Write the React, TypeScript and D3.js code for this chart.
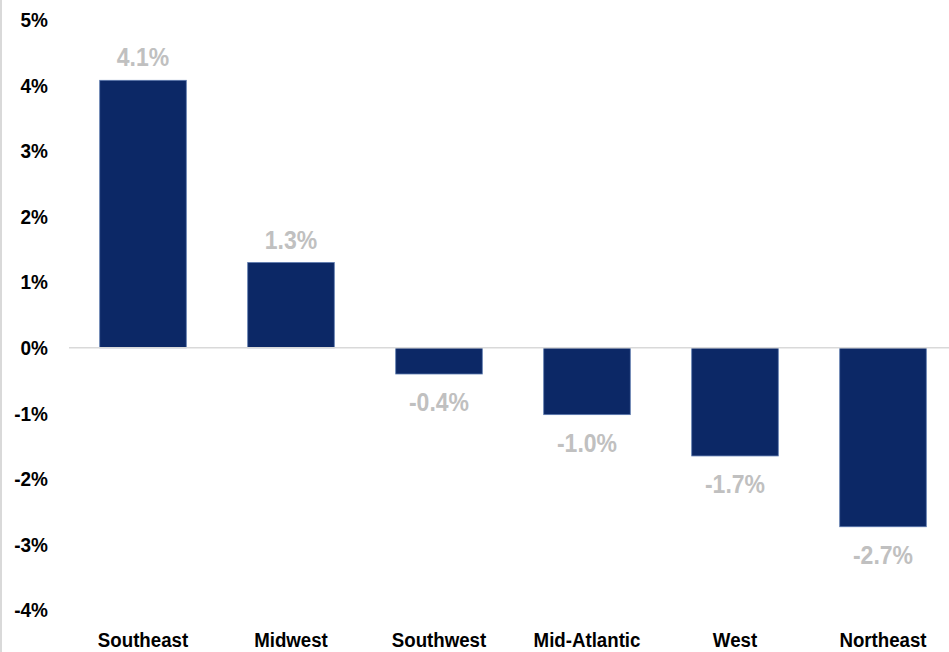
import React from "react";
import * as d3 from "d3";

const categories = ["Southeast", "Midwest", "Southwest", "Mid-Atlantic", "West", "Northeast"];
const values = [4.08, 1.3, -0.4, -1.02, -1.65, -2.73];
const valueLabels = ["4.1%", "1.3%", "-0.4%", "-1.0%", "-1.7%", "-2.7%"];
const yTicks = [5, 4, 3, 2, 1, 0, -1, -2, -3, -4];

const W = 949;
const H = 652;
const FONT = "'Liberation Sans', Arial, sans-serif";

export default function App() {
  const y = d3.scaleLinear().domain([-4, 5]).range([610, 20]);
  const x = d3.scaleBand<string>().domain(categories).range([69, 957]).paddingInner(0.415).paddingOuter(0.2075);
  const y0 = y(0);
  return (
    <svg width={W} height={H} style={{ position: "absolute", left: 0, top: 0, background: "#fff" }}>
      <rect x={0} y={0} width={2} height={H} fill="#d9d9d9" />
      {yTicks.map((t) => (
        <text key={t} transform={`translate(48,${y(t)}) scale(0.95,1)`} dy="0.36em" textAnchor="end" fontFamily={FONT} fontWeight="bold" fontSize={20} fill="#000">
          {`${t}%`}
        </text>
      ))}
      {categories.map((c, i) => {
        const v = values[i];
        const bx = x(c)!;
        const top = v >= 0 ? y(v) : y0;
        const h = Math.abs(y(v) - y0);
        const cx = bx + x.bandwidth() / 2;
        const ly = v >= 0 ? y(v) - 14 : y(v) + 37;
        return (
          <g key={c}>
            <rect x={bx} y={top} width={x.bandwidth()} height={h} fill="#0c2866" stroke="#5a78ad" strokeWidth={0.8} />
            <text transform={`translate(${cx},${ly}) scale(0.92,1)`} textAnchor="middle" fontFamily={FONT} fontWeight="bold" fontSize={25} fill="#c0c0c0">
              {valueLabels[i]}
            </text>
            <text transform={`translate(${cx},647) scale(0.89,1)`} textAnchor="middle" fontFamily={FONT} fontWeight="bold" fontSize={21} fill="#000">
              {c}
            </text>
          </g>
        );
      })}
      <line x1={69} x2={W} y1={y0} y2={y0} stroke="#d9d9d9" strokeWidth={1.5} />
    </svg>
  );
}
